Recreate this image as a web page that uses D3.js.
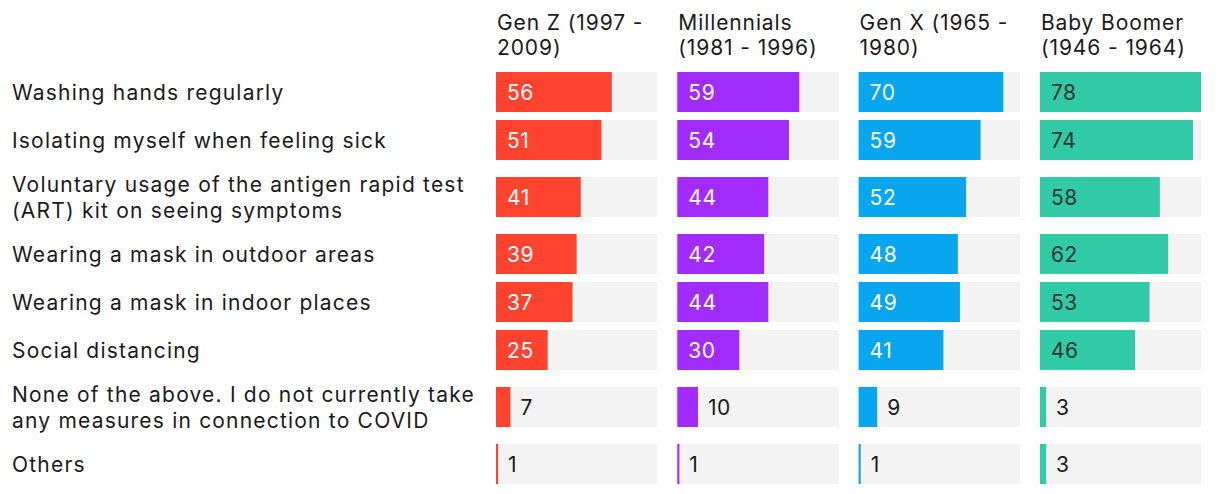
<!DOCTYPE html>
<html>
<head>
<meta charset="utf-8" />
<title>COVID measures by generation</title>
<script src="https://cdn.jsdelivr.net/npm/d3@7"></script>
<style>
  body { margin: 0; background: #fff; }
  svg { display: block; font-family: Inter, "Noto Sans", sans-serif; }
  .label { font-size: 21px; fill: #1a1a1a; letter-spacing: 1.2px; }
  .head { font-size: 21px; fill: #1a1a1a; letter-spacing: 0.9px; }
  .val { font-size: 21px; letter-spacing: 0.6px; }
</style>
</head>
<body>
<div id="chart"></div>
<script>
  // measures (label lines)
  var categories = [
    ["Washing hands regularly"],
    ["Isolating myself when feeling sick"],
    ["Voluntary usage of the antigen rapid test", "(ART) kit on seeing symptoms"],
    ["Wearing a mask in outdoor areas"],
    ["Wearing a mask in indoor places"],
    ["Social distancing"],
    ["None of the above. I do not currently take", "any measures in connection to COVID"],
    ["Others"]
  ];

  var generations = [
    ["Gen Z (1997 -", "2009)"],
    ["Millennials", "(1981 - 1996)"],
    ["Gen X (1965 -", "1980)"],
    ["Baby Boomer", "(1946 - 1964)"]
  ];

  var genZ = [56, 51, 41, 39, 37, 25, 7, 1];
  var millennials = [59, 54, 44, 42, 44, 30, 10, 1];
  var genX = [70, 59, 52, 48, 49, 41, 9, 1];
  var boomers = [78, 74, 58, 62, 53, 46, 3, 3];

  var series = [genZ, millennials, genX, boomers];
  var colors = ["#ff432e", "#a22bfe", "#07a6ee", "#30caa7"];
  var textIn = ["#fff", "#fff", "#fff", "#333"];

  var W = 1220, H = 494;
  var top0 = 68, rowH = 48, lineH = 26, barH = 40;

  var svg = d3.select("#chart").append("svg")
    .attr("width", W).attr("height", H);

  // row offsets from number of label lines
  var rows = [];
  var y0 = top0;
  categories.forEach(function (c) {
    var h = rowH + (c.length - 1) * 18;
    rows.push({ y: y0, h: h, c: y0 + h / 2 });
    y0 += h;
  });

  var col = d3.scaleBand().domain(d3.range(4))
    .range([496, 496 + 4 * 161.3 + 3 * 20])
    .paddingInner(20 / 181.3).paddingOuter(0);

  var x = d3.scaleLinear().domain([0, 78]).range([0, col.bandwidth()]);

  // left labels
  rows.forEach(function (r, i) {
    var lines = categories[i];
    var t = svg.append("text").attr("class", "label").attr("x", 12);
    lines.forEach(function (l, j) {
      t.append("tspan").attr("x", 12)
        .attr("y", r.c + (j - (lines.length - 1) / 2) * lineH)
        .attr("dy", "0.36em").text(l);
    });
  });

  series.forEach(function (vals, s) {
    var g = svg.append("g").attr("transform", "translate(" + col(s) + ",0)");

    var h = g.append("text").attr("class", "head");
    generations[s].forEach(function (l, j) {
      h.append("tspan").attr("x", 1).attr("y", 30 + j * 25).text(l);
    });

    g.selectAll(".track").data(vals).enter().append("rect")
      .attr("x", 0).attr("y", function (d, i) { return rows[i].c - barH / 2; })
      .attr("width", x.range()[1]).attr("height", barH)
      .attr("fill", "#f3f3f3");

    g.selectAll(".bar").data(vals).enter().append("rect")
      .attr("x", 0).attr("y", function (d, i) { return rows[i].c - barH / 2; })
      .attr("width", function (d) { return x(d); }).attr("height", barH)
      .attr("fill", colors[s]);

    g.selectAll(".val").data(vals).enter().append("text")
      .attr("class", "val")
      .attr("x", function (d) { return d >= 20 ? 11 : x(d) + 10; })
      .attr("y", function (d, i) { return rows[i].c; })
      .attr("dy", "0.36em")
      .attr("fill", function (d) { return d >= 20 ? textIn[s] : "#1a1a1a"; })
      .text(function (d) { return d; });
  });
</script>
</body>
</html>
